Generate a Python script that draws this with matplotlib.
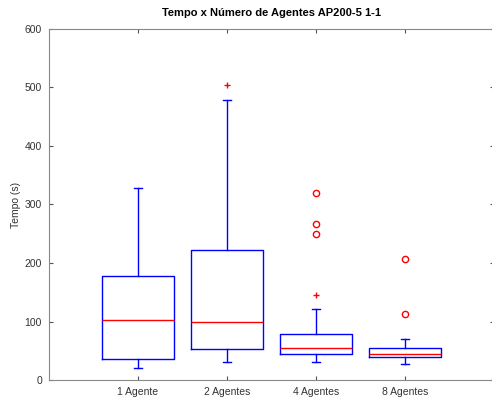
import matplotlib
matplotlib.use("Agg")
import matplotlib.pyplot as plt

plt.rcParams['font.family'] = ['Liberation Sans', 'DejaVu Sans']

labels = ["1 Agente", "2 Agentes", "4 Agentes", "8 Agentes"]
whislo = [20, 30, 31, 27]
q1 = [36, 53, 44, 39]
med = [103, 100, 54, 44]
q3 = [177, 223, 79, 54]
whishi = [329, 478, 121, 70]
outliers_plus = [[], [504], [145], []]
outliers_circle = [[], [], [319, 266, 249], [207, 112]]

fig = plt.figure(figsize=(4.92, 4.03), dpi=100)
ax = fig.add_axes([49/492, 1 - 380/403, 445/492, 351/403])

stats = []
for i in range(len(labels)):
    stats.append(dict(label=labels[i], whislo=whislo[i], q1=q1[i], med=med[i],
                      q3=q3[i], whishi=whishi[i], fliers=[]))
positions = list(range(1, len(labels) + 1))
ax.bxp(stats, positions=positions, widths=0.8, showfliers=False,
       boxprops=dict(color='#0000ff', linewidth=1.0),
       whiskerprops=dict(color='#0000ff', linewidth=1.0, linestyle='-'),
       capprops=dict(color='#0000ff', linewidth=1.0),
       medianprops=dict(color='#ff0000', linewidth=1.0),
       capwidths=0.1)

for p, vals in zip(positions, outliers_plus):
    if vals:
        ax.plot([p] * len(vals), vals, linestyle='none', marker='+', color='#ff0000',
                markersize=5, markeredgewidth=1.0)
for p, vals in zip(positions, outliers_circle):
    if vals:
        ax.plot([p] * len(vals), vals, linestyle='none', marker='o', markerfacecolor='none',
                markeredgecolor='#ff0000', markersize=4.5, markeredgewidth=1.0)

ax.set_xlim(0, 5)
ax.set_ylim(0, 600)
ax.set_xticks(positions)
ax.set_xticklabels(labels)
ax.set_yticks([0, 100, 200, 300, 400, 500, 600])
ax.tick_params(direction='in', length=3, width=0.8, color='#555555', labelcolor='#333333',
               labelsize=7.5, top=True, right=True, pad=5)
for s in ax.spines.values():
    s.set_color('#888888')
    s.set_linewidth(0.8)
ax.set_ylabel('Tempo (s)', fontsize=7.5, color='#333333', labelpad=3)
ax.set_title('Tempo x Número de Agentes AP200-5 1-1', fontsize=8, fontweight='bold', pad=9)

fig.savefig('out.png', dpi=100)
